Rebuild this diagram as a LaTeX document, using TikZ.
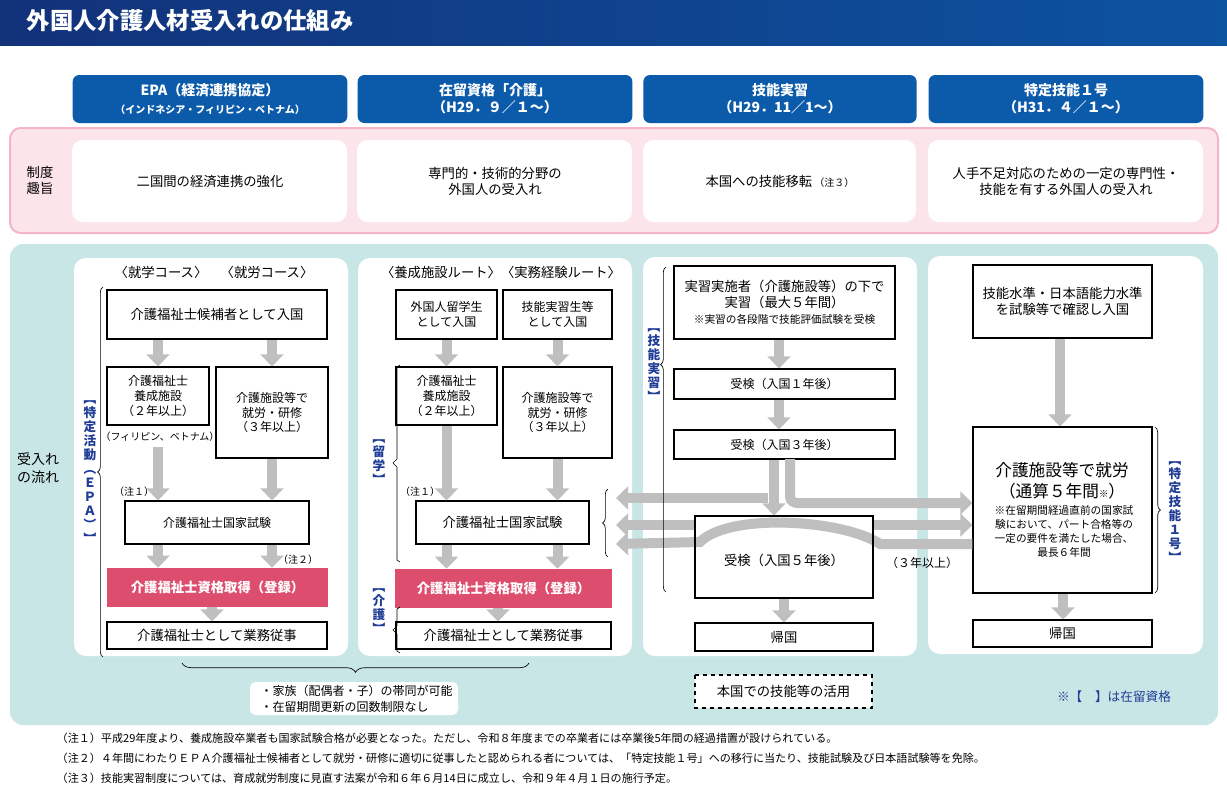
\documentclass[tikz,border=0pt]{standalone}
\usepackage{fontspec}
\setmainfont{Noto Sans CJK JP}
\usetikzlibrary{arrows.meta,decorations.pathreplacing}
\definecolor{navy}{HTML}{12327A}
\definecolor{hdr}{HTML}{0B5BAA}
\definecolor{pinkbg}{HTML}{FCE4EB}
\definecolor{pinkln}{HTML}{F4B6C6}
\definecolor{teal}{HTML}{C9E6E6}
\definecolor{rose}{HTML}{DC4D6E}
\definecolor{agray}{HTML}{BFBFBF}
\definecolor{lblue}{HTML}{1F3C96}
\begin{document}
\begin{tikzpicture}[x=0.75pt,y=-0.75pt,
  font=\fontsize{10}{12}\selectfont,
  bx/.style={draw=black,line width=0.9pt,fill=white,align=center,inner sep=0pt},
  arr/.style={draw=agray,line width=7.5pt,-{Triangle[length=9pt,width=17pt]}},
  band/.style={draw=agray,line width=7.5pt},
  pnl/.style={fill=white,rounded corners=9pt},
  hd/.style={fill=hdr,rounded corners=5pt,text=white,align=center,font=\fontsize{10.5}{13}\selectfont\bfseries},
  vl/.style={text=lblue,font=\fontsize{9.5}{10.5}\selectfont\bfseries,align=center,inner sep=0pt},
  sm/.style={font=\fontsize{7.5}{9}\selectfont,inner sep=0pt},
  brc/.style={decorate,draw=black,line width=0.5pt}]
\useasboundingbox (0,0) rectangle (1227,790);
\fill[white] (0,0) rectangle (1227,790);
% title
\shade[left color=navy,right color=hdr!80!navy] (0,0) rectangle (1227,45);
\node[anchor=west,text=white,font=\fontsize{17.5}{20}\selectfont\bfseries] (title) at (22,21) {外国人介護人材受入れの仕組み};
% column headers
\node[hd,minimum width=206pt,minimum height=36pt] (h1) at (210,99) {EPA（経済連携協定）\\{\fontsize{7.5}{9}\selectfont（インドネシア・フィリピン・ベトナム）}};
\node[hd,minimum width=206pt,minimum height=36pt] (h2) at (495,99) {在留資格「介護」\\（H29．９／１～）};
\node[hd,minimum width=205pt,minimum height=36pt] (h3) at (780,99) {技能実習\\（H29．11／1～）};
\node[hd,minimum width=206pt,minimum height=36pt] (h4) at (1066,99) {特定技能１号\\（H31．４／１～）};
% pink band
\draw[fill=pinkbg,draw=pinkln,line width=1.5pt,rounded corners=8pt] (10,128) rectangle (1218,233);
\node[align=center] (seido) at (40,180) {制度\\趣旨};
\foreach \a/\b/\n in {72/347/p1,357/632/p2,643/916/p3,928/1203/p4}
  \fill[white,rounded corners=8pt] (\a,140) rectangle (\b,222);
\node (s1) at (210,181) {二国間の経済連携の強化};
\node[align=center] (s2) at (495,181) {専門的・技術的分野の\\外国人の受入れ};
\node (s3) at (780,181) {本国への技能移転\,{\fontsize{7.5}{9}\selectfont（注３）}};
\node[align=center] (s4) at (1066,181) {人手不足対応のための一定の専門性・\\技能を有する外国人の受入れ};
% teal area
\fill[teal,rounded corners=10pt] (10,244) rectangle (1218,725);
\node[align=center,font=\fontsize{10.5}{13}\selectfont] (flow) at (38,468) {受入れ\\の流れ};
\fill[pnl] (74,258) rectangle (348,656);
\fill[pnl] (358,258) rectangle (632,656);
\fill[pnl] (643,257) rectangle (917,656);
\fill[pnl] (928,256) rectangle (1203,654);
% ---------- panel 1 : EPA
\node (c1) at (214,272) {〈就学コース〉　〈就労コース〉};
\node[bx,minimum width=165pt,minimum height=36.75pt] (A) at (217,314.5) {介護福祉士候補者として入国};
\node[bx,minimum width=76.5pt,minimum height=43.5pt,font=\fontsize{9}{11}\selectfont] (B) at (158,396) {介護福祉士\\養成施設\\（２年以上）};
\node[bx,minimum width=84pt,minimum height=68.25pt,font=\fontsize{9}{11}\selectfont] (C) at (272,412.5) {介護施設等で\\就労・研修\\（３年以上）};
\node[sm] (phil) at (160,437) {（フィリピン、ベトナム）};
\node[bx,minimum width=138pt,minimum height=32.25pt,font=\fontsize{9}{11}\selectfont] (D) at (217,522.5) {介護福祉士国家試験};
\node[fill=rose,text=white,font=\fontsize{10}{12}\selectfont\bfseries,minimum width=165.75pt,minimum height=29.25pt,inner sep=0pt] (E) at (217.5,587.5) {介護福祉士資格取得（登録）};
\node[bx,minimum width=165pt,minimum height=20.25pt] (F) at (217,635.5) {介護福祉士として業務従事};
\node[sm] (n11) at (134,492) {（注１）};
\node[sm] (n2) at (298,560) {（注２）};
\draw[arr] (A.south-|B) -- (B.north);
\draw[arr] (A.south-|C) -- (C.north);
\draw[arr] (158,447) -- (D.north-|B);
\draw[arr] (C.south) -- (D.north-|C);
\draw[arr] (D.south-|B) -- (E.north-|B);
\draw[arr] (D.south-|C) -- (E.north-|C);
\draw[arr] (E.south-|212,0) -- (F.north-|212,0);
\draw[brc,decoration={brace,amplitude=4pt}] (103,657) -- (103,287);
\node[vl] (epa) at (90,472) {︻\\特\\定\\活\\動\\︵\\Ｅ\\Ｐ\\Ａ\\︶\\︼};
% ---------- panel 2 : 介護
\node (c2) at (501,272) {〈養成施設ルート〉〈実務経験ルート〉};
\node[bx,minimum width=75.75pt,minimum height=36.75pt,font=\fontsize{9}{11}\selectfont] (G) at (446.5,314.5) {外国人留学生\\として入国};
\node[bx,minimum width=81.75pt,minimum height=36.75pt,font=\fontsize{9}{11}\selectfont] (H) at (557.5,314.5) {技能実習生等\\として入国};
\node[bx,minimum width=75.75pt,minimum height=43.5pt,font=\fontsize{9}{11}\selectfont] (I) at (446.5,396) {介護福祉士\\養成施設\\（２年以上）};
\node[bx,minimum width=81.75pt,minimum height=68.25pt,font=\fontsize{9}{11}\selectfont] (J) at (557.5,412.5) {介護施設等で\\就労・研修\\（３年以上）};
\node[bx,minimum width=129.75pt,minimum height=32.25pt] (K) at (502.5,522.5) {介護福祉士国家試験};
\node[fill=rose,text=white,font=\fontsize{10}{12}\selectfont\bfseries,minimum width=162.75pt,minimum height=29.25pt,inner sep=0pt] (L) at (503.5,588.5) {介護福祉士資格取得（登録）};
\node[bx,minimum width=161.25pt,minimum height=20.25pt] (M) at (503.5,635.5) {介護福祉士として業務従事};
\node[sm] (n12) at (420,492) {（注１）};
\draw[arr] (G.south) -- (I.north);
\draw[arr] (H.south) -- (J.north);
\draw[arr] (I.south) -- (K.north-|I);
\draw[arr] (J.south) -- (K.north-|J);
\draw[arr] (K.south-|I) -- (L.north-|I);
\draw[arr] (K.south-|J) -- (L.north-|J);
\draw[arr] (L.south-|498,0) -- (M.north-|498,0);
\draw[line width=0.5pt] (400,365) -- (397,367) -- (397,459) -- (393,463) -- (397,467) -- (397,560) -- (400,562);
\node[vl] (ryu) at (379,462) {︻\\留\\学\\︼};
\draw[line width=0.5pt] (400,607) -- (397,609) -- (397,626) -- (393,630) -- (397,634) -- (397,651) -- (400,653);
\node[vl] (kaigo) at (379,611) {︻\\介\\護\\︼};
\draw[brc,decoration={brace,amplitude=4pt}] (608,557) -- (608,489);
% bottom brace and note
\draw[brc,decoration={brace,amplitude=7pt}] (529,663) -- (182,663);
\fill[white,rounded corners=4pt] (250,682) rectangle (458,715);
\node[align=left,anchor=west,font=\fontsize{9}{12}\selectfont] (note) at (256,698.5) {・家族（配偶者・子）の帯同が可能\\・在留期間更新の回数制限なし};
% ---------- panel 3 : 技能実習
\node[bx,minimum width=165.75pt,minimum height=54.75pt] (N) at (784.5,302.5) {実習実施者（介護施設等）の下で\\実習（最大５年間）\\{\fontsize{8}{10}\selectfont ※実習の各段階で技能評価試験を受検}};
\node[bx,minimum width=165.75pt,minimum height=22.5pt,font=\fontsize{9}{11}\selectfont] (O) at (784.5,384) {受検（入国１年後）};
\node[bx,minimum width=165.75pt,minimum height=21.75pt,font=\fontsize{9}{11}\selectfont] (P) at (784.5,444.5) {受検（入国３年後）};
\node[bx,minimum width=133.5pt,minimum height=61.5pt] (Q) at (784,557) {};
\node (Qt) at (784,560) {受検（入国５年後）};
\node[bx,minimum width=133.5pt,minimum height=21pt] (R) at (784,637) {帰国};
\draw[arr] (N.south-|779,0) -- (O.north-|779,0);
\draw[arr] (O.south-|779,0) -- (P.north-|779,0);
\draw[arr] (P.south-|774,0) -- (Q.north-|774,0);
\draw[arr] (Q.south-|784,0) -- (R.north-|784,0);
% panel 4 boxes
\node[bx,minimum width=134.25pt,minimum height=54.75pt] (T) at (1062.5,301.5) {技能水準・日本語能力水準\\を試験等で確認し入国};
\node[bx,minimum width=134.25pt,minimum height=124.5pt] (S) at (1062.5,510) {};
\node[align=center,font=\fontsize{12.5}{16}\selectfont] (St) at (1062,481) {介護施設等で就労\\（通算５年間{\fontsize{7}{8}\selectfont ※}）};
\node[align=center,font=\fontsize{8}{10.5}\selectfont] (Ss) at (1064,531) {※在留期間経過直前の国家試\\験において、パート合格等の\\一定の要件を満たした場合、\\最長６年間};
\node[bx,minimum width=134.25pt,minimum height=20.25pt] (U) at (1062.5,633.5) {帰国};
\draw[arr] (T.south-|1060,0) -- (S.north-|1060,0);
\draw[arr] (S.south-|1063,0) -- (U.north-|1063,0);
% cross arrows
\draw[arr] (790,459) -- (790,497) to[out=-90,in=180] (798,503) -- (S.west|-0,503);
\draw[arr] (768,498) -- (616,498);
\draw[arr] (Q.west|-0,525) -- (616,525);
\draw[arr] (Q.east|-0,525) -- (S.west|-0,525);
\draw[band,-{Triangle[length=9pt,width=17pt]}] (S.west|-0,544) -- (880,544) .. controls (845,520) and (730,512) .. (700,542) -- (616,544);
\node[bx,minimum width=133.5pt,minimum height=61.5pt,fill=none,draw=black] (Qb) at (784,557) {};
\draw[brc,decoration={brace,amplitude=4pt,aspect=0.70}] (666,592) -- (666,267);
\node[vl] (gino) at (654,365) {︻\\技\\能\\実\\習\\︼};
\node[font=\fontsize{9}{11}\selectfont] (y3) at (922,563) {（３年以上）};
\draw[dashed,line width=0.8pt,fill=white] (695,675) rectangle (872,708);
\node (home) at (783.5,691.5) {本国での技能等の活用};
% panel 4 brace
\draw[brc,decoration={brace,amplitude=4pt,aspect=0.5}] (1155,427) -- (1155,593);
\node[vl] (tokutei) at (1175,512) {︻\\特\\定\\技\\能\\１\\号\\︼};
\node[text=lblue,font=\fontsize{9.5}{11}\selectfont] (legend) at (1114,697) {※【　】は在留資格};
% footnotes
\node[anchor=west,font=\fontsize{8.3}{10}\selectfont] (f1) at (52,738) {（注１）平成29年度より、養成施設卒業者も国家試験合格が必要となった。ただし、令和８年度までの卒業者には卒業後5年間の経過措置が設けられている。};
\node[anchor=west,font=\fontsize{8.3}{10}\selectfont] (f2) at (52,758) {（注２）４年間にわたりＥＰＡ介護福祉士候補者として就労・研修に適切に従事したと認められる者については、「特定技能１号」への移行に当たり、技能試験及び日本語試験等を免除。};
\node[anchor=west,font=\fontsize{8.3}{10}\selectfont] (f3) at (52,778) {（注３）技能実習制度については、育成就労制度に見直す法案が令和６年６月14日に成立し、令和９年４月１日の施行予定。};
\end{tikzpicture}
\end{document}
